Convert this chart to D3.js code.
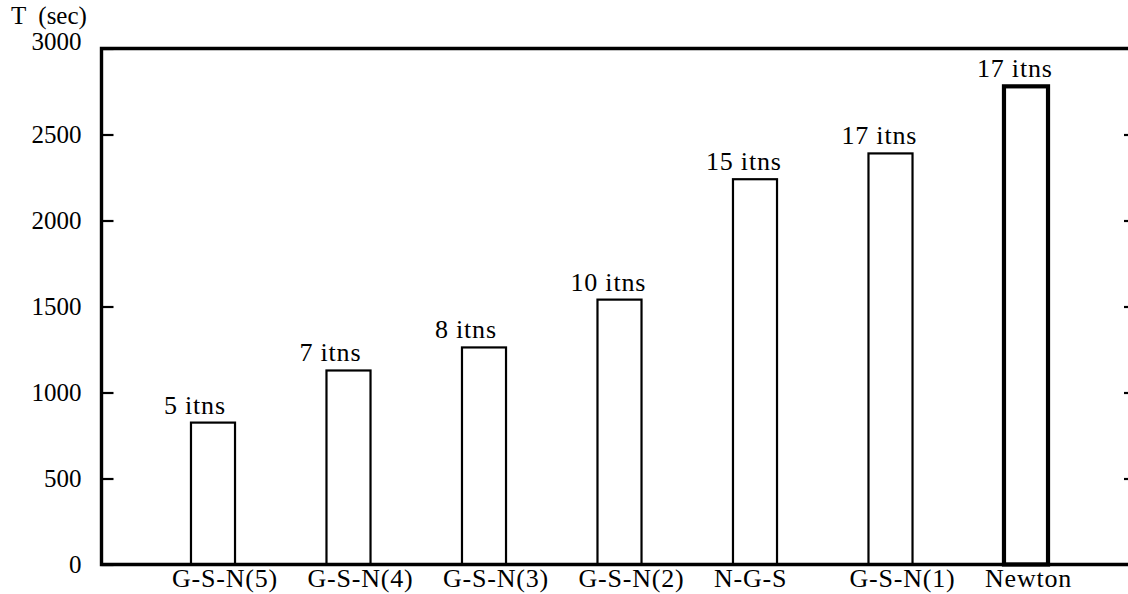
<!DOCTYPE html>
<html>
<head>
<meta charset="utf-8">
<script src="https://cdn.jsdelivr.net/npm/d3@7"></script>
<style>
  html, body { margin: 0; padding: 0; background: #fff; }
  svg { display: block; }
</style>
</head>
<body>
<svg id="chart" width="1128" height="594"></svg>
<script>
// Solver timings and iteration counts
const methods = ["G-S-N(5)", "G-S-N(4)", "G-S-N(3)", "G-S-N(2)", "N-G-S", "G-S-N(1)", "Newton"];
const times = [825, 1128, 1262, 1540, 2240, 2390, 2780];
const iterations = [5, 7, 8, 10, 15, 17, 17];
const yTicks = [0, 500, 1000, 1500, 2000, 2500, 3000];

const fontFamily = "Liberation Serif";
const svg = d3.select("#chart");
const plotLeft = 101.5, plotRight = 1136, plotTop = 48.5, plotBottom = 564.5;

const x = d3.scaleBand()
  .domain(methods)
  .range([145.25, 1093.75])
  .paddingInner(0.675)
  .paddingOuter(0.3375);

const y = d3.scaleLinear().domain([0, 3000]).range([plotBottom, plotTop]);

// Bars (open boxes; the Newton bar has a heavier outline)
svg.append("g").selectAll("rect")
  .data(methods)
  .join("rect")
  .attr("x", d => x(d))
  .attr("y", (d, i) => y(times[i]))
  .attr("width", x.bandwidth())
  .attr("height", (d, i) => y(0) - y(times[i]))
  .attr("fill", "none")
  .attr("stroke", "#000")
  .attr("stroke-width", d => d === "Newton" ? 4.2 : 2.2);

// Iteration labels above bars
svg.append("g").selectAll("text")
  .data(methods)
  .join("text")
  .attr("x", d => x(d) - 27)
  .attr("y", (d, i) => y(times[i]) - 9)
  .attr("font-family", fontFamily)
  .attr("font-size", 26)
  .attr("letter-spacing", 0.8)
  .text((d, i) => iterations[i] + " itns");

// Left axis with inward ticks
const yAxisL = d3.axisLeft(y).tickValues(yTicks).tickSize(-12).tickPadding(30).tickFormat(d3.format("d"));
const gL = svg.append("g").attr("transform", `translate(${plotLeft},0)`).call(yAxisL);
gL.attr("font-family", fontFamily).attr("font-size", 25);
gL.select(".domain").remove();
gL.selectAll(".tick line").attr("stroke", "#000").attr("stroke-width", 2.2);
gL.selectAll(".tick text")
  .attr("x", -20)
  .attr("dy", d => d === 3000 ? "0.05em" : "0.32em");

// Right axis with inward ticks
const yAxisR = d3.axisRight(y).tickValues(yTicks.slice(1, -1)).tickSize(-12).tickFormat("");
const gR = svg.append("g").attr("transform", `translate(${plotRight},0)`).call(yAxisR);
gR.select(".domain").remove();
gR.selectAll(".tick line").attr("stroke", "#000").attr("stroke-width", 2.2);

// Frame: top, left and bottom edges
svg.append("path")
  .attr("d", `M${plotRight},${plotTop}H${plotLeft}V${plotBottom}H${plotRight}`)
  .attr("fill", "none")
  .attr("stroke", "#000")
  .attr("stroke-width", 3.4);

// Category labels
svg.append("g").selectAll("text")
  .data(methods)
  .join("text")
  .attr("x", d => x(d) - 19)
  .attr("y", 587)
  .attr("font-family", fontFamily)
  .attr("font-size", 26)
  .attr("letter-spacing", 0.8)
  .text(d => d);

// Axis title
svg.append("text")
  .attr("x", 11)
  .attr("y", 24)
  .attr("font-family", fontFamily)
  .attr("font-size", 25)
  .attr("xml:space", "preserve")
  .text("T  (sec)");
</script>
</body>
</html>
